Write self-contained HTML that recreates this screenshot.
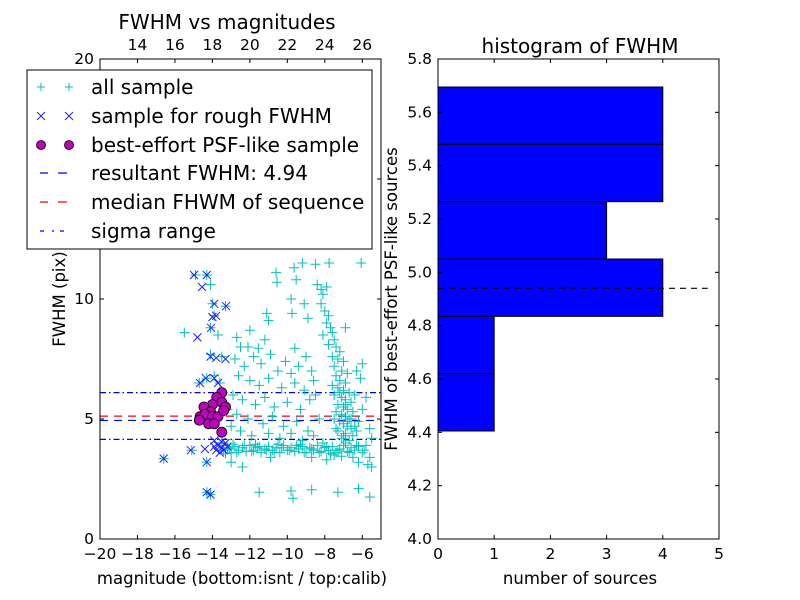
<!DOCTYPE html>
<html><head><meta charset="utf-8">
<style>
html,body{margin:0;padding:0;background:#fff;}
svg{display:block;font-family:"DejaVu Sans","Liberation Sans",sans-serif;}
</style></head>
<body>
<svg id="chart" width="800" height="600" xmlns="http://www.w3.org/2000/svg">
<rect width="800" height="600" fill="#fff"/>
<g id="left"></g>
<g id="right"></g>
</svg>
<script>
const allMag = [-15.5,-14.9,-14.3,-14.1,-14.0,-13.3,-14.1,-13.9,-13.7,-14.1,-13.5,-14.7,-14.3,-13.9,-13.6,-15.1,-16.6,-14.3,-14.3,-14.1,
-10.6,-9.64,-9.2,-8.5,-7.77,-6.06,-10.55,-9.53,-8.4,-8.2,-7.9,-8.1,-9.8,-9.1,-9.75,-8.9,-11.1,-11.0,-12.0,-12.7,-11.2,-12.5,-12.1,-11.55,-9.6,-6.9,
-8.2,-8.0,-7.8,-7.9,-7.7,-7.6,-8.1,-7.5,-7.8,-7.4,-7.2,-7.6,-7.3,-7.0,-7.5,-7.1,-6.8,-7.4,-7.2,-6.9,-7.6,-7.3,-7.0,-6.7,-7.5,-7.1,-6.9,-6.6,-7.3,-7.0,-6.8,-7.4,-6.5,-7.1,-6.9,-6.7,-7.2,-7.0,-6.8,-6.6,-7.3,-6.9,-6.5,-7.1,-6.7,-6.3,-6.2,-6.0,-6.4,-6.1,-5.8,-5.6,-5.5,-6.0,-6.3,
-12.8,-12.3,-11.8,-11.4,-10.9,-10.5,-10.1,-9.8,-9.4,-9.0,-8.7,-12.6,-12.0,-11.5,-11.0,-10.3,-9.6,-9.1,-8.6,-12.9,-12.4,-11.7,-11.2,-10.7,-10.0,-9.3,-8.8,-12.7,-12.1,-11.3,-10.8,-10.2,-9.5,-8.9,-12.5,-11.9,-11.0,-10.4,-9.8,-9.2,-8.6,-13.0,-13.2,-8.3,-8.5,
-13.6,-13.4,-13.2,-13.0,-12.8,-12.6,-12.4,-12.2,-12.0,-11.8,-11.6,-11.4,-11.2,-11.0,-10.8,-10.6,-10.4,-10.2,-10.0,-9.8,-9.6,-9.4,-9.2,-9.0,-8.8,-8.6,-8.4,-8.2,-8.0,-7.8,-7.6,-7.4,-7.2,-7.0,-6.8,-6.6,-6.4,-6.2,-6.0,-5.8,-5.6,-12.9,-11.7,-10.5,-9.3,-8.1,-6.9,-13.5,-13.3,-7.5,-6.5,-6.2,-5.7,-5.5,-7.9,-8.7,-10.9,-12.4,-13.0,
-13.1,-12.7,-12.3,-11.9,-11.5,-11.1,-10.7,-10.3,-9.9,-9.5,-9.1,-8.7,-8.3,-7.9,-7.7,-7.3,-7.1,-6.7,-6.3,-5.9,
-7.4,-7.0,-6.6,-6.9,-7.2,-6.4,-7.5,-6.8,
-11.5,-9.7,-9.8,-8.7,-7.3,-5.6,-6.2];
const allFwhm = [8.6,11.0,11.0,10.6,9.8,9.7,8.8,9.3,8.5,7.7,7.6,6.5,6.7,6.8,6.5,3.7,3.35,3.2,1.95,1.85,
11.1,11.3,11.5,11.45,11.5,11.5,10.7,10.8,10.6,10.4,10.5,10.2,10.0,9.8,9.4,9.2,9.4,9.1,8.7,8.4,8.3,8.0,8.0,7.95,7.95,8.8,
9.8,9.5,9.3,9.0,8.8,8.6,8.5,8.3,8.1,8.0,7.8,7.6,7.5,7.4,7.2,7.0,6.9,6.8,6.6,6.5,6.4,6.3,6.2,6.1,6.0,5.9,5.8,5.7,5.6,5.5,5.4,5.3,5.3,5.2,5.1,5.0,4.9,4.8,4.7,4.6,4.5,4.4,4.3,4.2,4.1,4.5,4.9,5.4,6.0,6.7,5.9,4.6,4.2,7.3,7.0,
7.5,7.2,7.6,7.3,7.7,7.0,7.4,6.9,7.2,7.6,7.0,6.8,6.6,6.4,6.7,6.3,6.5,6.2,6.6,6.0,5.8,5.6,5.9,5.5,5.7,5.4,5.8,5.2,5.0,4.8,5.1,4.7,4.9,4.5,4.5,4.3,4.4,4.2,4.4,4.1,4.3,4.7,5.4,5.0,6.0,
3.9,3.7,3.8,3.6,3.85,3.7,3.8,3.65,3.9,3.7,3.8,3.6,3.75,3.85,3.7,3.8,3.6,3.9,3.7,3.8,3.65,3.75,3.85,3.6,3.8,3.7,3.9,3.65,3.8,3.7,3.85,3.6,3.75,3.9,3.65,3.8,3.7,3.85,3.6,3.9,3.4,3.95,3.95,3.95,3.95,4.0,4.0,4.0,3.55,3.5,3.4,3.2,3.1,3.0,3.3,3.4,3.4,3.0,3.2,
3.75,3.6,3.9,3.65,3.85,3.7,3.6,3.8,3.7,3.9,3.6,3.75,3.6,3.85,3.55,3.7,3.45,3.6,3.9,3.7,
4.6,4.3,5.0,5.6,6.1,4.7,5.0,4.9,
1.95,1.7,2.0,2.05,1.95,1.75,2.1];
const roughMag = [-14.98,-14.3,-14.55,-13.9,-13.27,-14.0,-13.8,-14.07,-14.8,-14.1,-13.8,-13.3,-14.66,-14.35,-13.9,-13.7,-15.15,-14.4,-16.6,-14.3,-14.3,-14.1,-13.9,-13.7,-13.5,-13.3,-13.8,-13.6,-13.4,-13.2,-13.9,-13.5];
const roughFwhm = [11.0,11.0,10.5,9.8,9.7,9.25,9.3,8.8,8.4,7.6,7.55,7.5,6.5,6.7,6.7,6.5,3.7,3.75,3.35,3.2,1.95,1.85,4.1,3.9,3.8,4.0,3.7,3.6,3.7,3.85,3.85,4.05];
const psfMag = [-13.5,-13.77,-14.0,-13.5,-13.3,-14.45,-14.1,-14.66,-14.4,-14.0,-13.7,-13.4,-14.2,-13.9,-14.7,-13.5];
const psfFwhm = [6.1,5.9,5.6,5.7,5.5,5.5,5.3,5.1,5.2,5.1,5.1,5.35,4.8,4.8,4.95,4.45];
const resultFwhm = 4.94, medianFwhm = 5.12, sigmaLo = 4.15, sigmaHi = 6.1;
const xTicks = [-20,-18,-16,-14,-12,-10,-8,-6];
const yTicks = [0,5,10,15,20];
const topTicks = [14,16,18,20,22,24,26];
const binEdges = [4.405,4.62,4.835,5.05,5.265,5.48,5.695];
const binCounts = [1,1,4,3,4,4];
const hxTicks = [0,1,2,3,4,5];
const hyTicks = ["4.0","4.2","4.4","4.6","4.8","5.0","5.2","5.4","5.6","5.8"];

const NS="http://www.w3.org/2000/svg";
function mk(parent,tag,attrs,text){const e=document.createElementNS(NS,tag);for(const k in attrs)e.setAttribute(k,attrs[k]);if(text!==undefined)e.textContent=text;parent.appendChild(e);return e;}
const L=document.getElementById('left'), R=document.getElementById('right');
const lx0=100,lx1=381,ly0=59,ly1=539;
const sx=m=>lx0+(m+20)/15*(lx1-lx0);
const sy=f=>ly1-f/20*(ly1-ly0);
const topOff=32;
function hline(y,color,dash,name){const l=mk(L,'line',{x1:lx0,x2:lx1,y1:sy(y),y2:sy(y),stroke:color,'stroke-width':1.2,'stroke-dasharray':dash});

}
hline(sigmaHi,'#0000ff','6 3 1.5 3','sigma-upper-line');
hline(sigmaLo,'#0000ff','6 3 1.5 3','sigma-lower-line');
hline(medianFwhm,'#ff0000','8 6','median-fwhm-line');
hline(resultFwhm,'#0000ff','8 6','resultant-fwhm-line');
allMag.forEach((m,i)=>{const x=sx(m),y=sy(allFwhm[i]);
const p=mk(L,'path',{d:`M${x-5},${y}H${x+5}M${x},${y-5}V${y+5}`,stroke:'#00bfbf','stroke-width':1});

});
roughMag.forEach((m,i)=>{const x=sx(m),y=sy(roughFwhm[i]);
const p=mk(L,'path',{d:`M${x-4},${y-4}L${x+4},${y+4}M${x-4},${y+4}L${x+4},${y-4}`,stroke:'#2020ff','stroke-width':1});

});
psfMag.forEach((m,i)=>{
const c=mk(L,'circle',{cx:sx(m),cy:sy(psfFwhm[i]),r:5,fill:'#bf00bf',stroke:'#000','stroke-width':0.8});

});
mk(L,'rect',{x:lx0,y:ly0,width:lx1-lx0,height:ly1-ly0,fill:'none',stroke:'#000','stroke-width':1});
xTicks.forEach(t=>{const x=sx(t);mk(L,'line',{x1:x,x2:x,y1:ly1,y2:ly1-4,stroke:'#000'});
const tx=mk(L,'text',{x:x,y:ly1+20,'text-anchor':'middle','font-size':15.5},String(t).replace('-','\u2212'));

});
topTicks.forEach(t=>{const x=sx(t-topOff);mk(L,'line',{x1:x,x2:x,y1:ly0,y2:ly0+4,stroke:'#000'});
const tx=mk(L,'text',{x:x,y:ly0-9,'text-anchor':'middle','font-size':15.5},String(t));

});
yTicks.forEach(t=>{const y=sy(t);mk(L,'line',{x1:lx0,x2:lx0+4,y1:y,y2:y,stroke:'#000'});mk(L,'line',{x1:lx1,x2:lx1-4,y1:y,y2:y,stroke:'#000'});
const tx=mk(L,'text',{x:lx0-6,y:y+5,'text-anchor':'end','font-size':15.5},String(t));

});
const rx0=438,rx1=719,ry0=59,ry1=539;
const hx=c=>rx0+c/5*(rx1-rx0);
const hy=v=>ry1-(v-4.0)/1.8*(ry1-ry0);
binCounts.forEach((c,i)=>{if(c<=0)return;
const r=mk(R,'rect',{x:hx(0),y:hy(binEdges[i+1]),width:hx(c)-hx(0),height:hy(binEdges[i])-hy(binEdges[i+1]),fill:'#0000ff',stroke:'#000','stroke-width':1});

});
const hl=mk(R,'line',{x1:hx(0),x2:hx(4.8),y1:hy(resultFwhm),y2:hy(resultFwhm),stroke:'#000','stroke-width':1.2,'stroke-dasharray':'6 5'});


mk(R,'rect',{x:rx0,y:ry0,width:rx1-rx0,height:ry1-ry0,fill:'none',stroke:'#000','stroke-width':1});
hxTicks.forEach(t=>{const x=hx(t);mk(R,'line',{x1:x,x2:x,y1:ry1,y2:ry1-4,stroke:'#000'});mk(R,'line',{x1:x,x2:x,y1:ry0,y2:ry0+4,stroke:'#000'});
const tx=mk(R,'text',{x:x,y:ry1+20,'text-anchor':'middle','font-size':15.5},String(t));

});
hyTicks.forEach(t=>{const y=hy(parseFloat(t));mk(R,'line',{x1:rx0,x2:rx0+4,y1:y,y2:y,stroke:'#000'});mk(R,'line',{x1:rx1,x2:rx1-4,y1:y,y2:y,stroke:'#000'});
const tx=mk(R,'text',{x:rx0-6,y:y+5,'text-anchor':'end','font-size':15.5},t);

});
</script>
<svg width="800" height="600" style="position:absolute;left:0;top:0" xmlns="http://www.w3.org/2000/svg" font-family="DejaVu Sans, Liberation Sans, sans-serif">
<text x="227" y="29" text-anchor="middle" font-size="20">FWHM vs magnitudes</text>
<text x="580" y="53" text-anchor="middle" font-size="20">histogram of FWHM</text>
<text x="242" y="584" text-anchor="middle" font-size="16.5">magnitude (bottom:isnt / top:calib)</text>
<text x="580" y="584" text-anchor="middle" font-size="16.5">number of sources</text>
<text transform="translate(65,299) rotate(-90)" text-anchor="middle" font-size="16.5">FWHM (pix)</text>
<text transform="translate(397,299) rotate(-90)" text-anchor="middle" font-size="16.5">FWHM of best-effort PSF-like sources</text>
<g>
<rect x="27" y="70" width="345" height="179" fill="#fff" stroke="#000" stroke-width="1"/>
<g font-size="20">
<g><path d="M37,87H45M41,83V91M65,87H73M69,83V91" stroke="#00bfbf"/><text x="91" y="94">all sample</text></g>
<g><path d="M37,112L45,120M37,120L45,112M65,112L73,120M65,120L73,112" stroke="#2020ff"/><text x="91" y="123">sample for rough FWHM</text></g>
<g><circle cx="41" cy="145" r="4.5" fill="#bf00bf" stroke="#000" stroke-width="0.8"/><circle cx="69" cy="145" r="4.5" fill="#bf00bf" stroke="#000" stroke-width="0.8"/><text x="91" y="152">best-effort PSF-like sample</text></g>
<g><path d="M40,173H48M58,173H67" stroke="#0000ff" stroke-width="1.2"/><text x="91" y="180">resultant FWHM: 4.94</text></g>
<g><path d="M40,202H48M58,202H67" stroke="#ff0000" stroke-width="1.2"/><text x="91" y="209">median FHWM of sequence</text></g>
<g><path d="M40,231H44M52,231H54M60,231H64" stroke="#0000ff" stroke-width="1.2"/><text x="91" y="238">sigma range</text></g>
</g></g>
</svg>
</body></html>
